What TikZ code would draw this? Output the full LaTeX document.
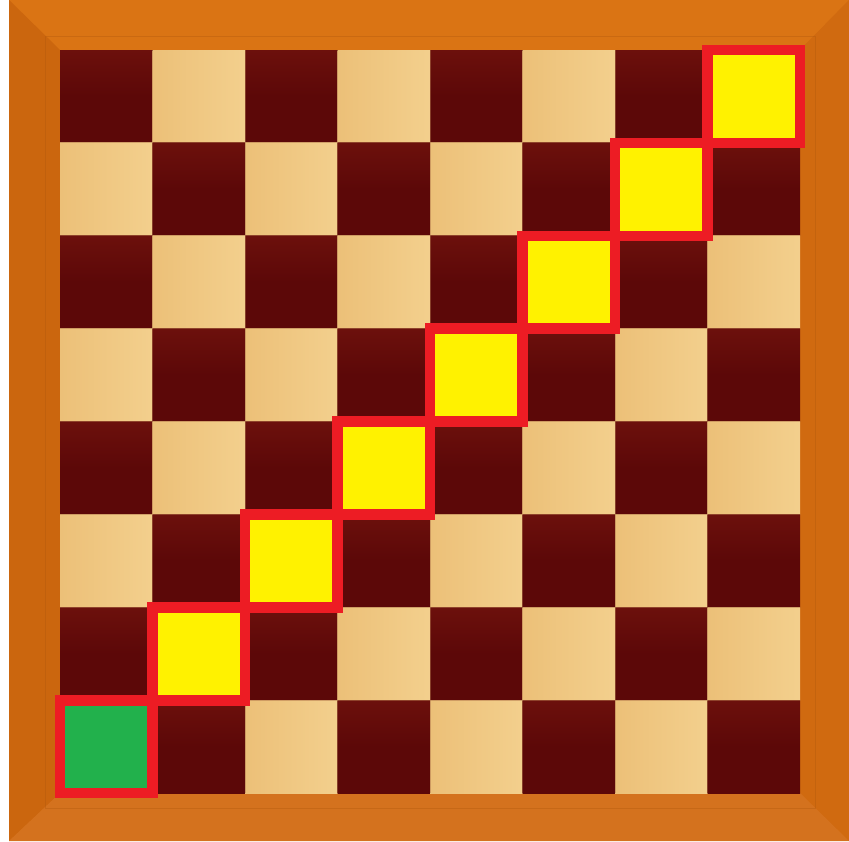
\documentclass[tikz,border=0pt]{standalone}
\usetikzlibrary{calc}
\definecolor{frameA}{RGB}{214,112,18}
\definecolor{frameL}{RGB}{203,102,14}
\definecolor{frameT}{RGB}{218,116,20}
\definecolor{frameR}{RGB}{208,106,16}
\definecolor{frameBot}{RGB}{212,114,30}
\definecolor{darksq}{RGB}{92,8,8}
\definecolor{darksq2}{RGB}{108,16,12}
\definecolor{lightsq}{RGB}{236,192,120}
\definecolor{lightsq2}{RGB}{246,214,150}
\definecolor{yel}{RGB}{255,242,0}
\definecolor{grn}{RGB}{34,177,76}
\definecolor{redl}{RGB}{237,28,36}
\tikzset{
  darkcell/.style={top color=darksq2,bottom color=darksq,middle color=darksq},
  lightcell/.style={left color=lightsq,right color=lightsq2!70!lightsq},
  pathcell/.style={fill=yel},
  startcell/.style={fill=grn},
  hilite/.style={draw=redl,line width=10.5pt,line join=miter}
}
\begin{document}
\begin{tikzpicture}[x=1pt,y=-1pt]
\useasboundingbox (0,0) rectangle (849,841);
\fill[white] (0,0) rectangle (849,841);
% frame
\fill[frameA] (9,0) rectangle (849,841);
\fill[frameT] (9,0) -- (849,0) -- (800,50) -- (60,50) -- cycle;
\fill[frameL] (9,0) -- (60,50) -- (60,793) -- (9,841) -- cycle;
\fill[frameR] (849,0) -- (849,841) -- (800,793) -- (800,50) -- cycle;
\fill[frameBot] (9,841) -- (60,793) -- (800,793) -- (849,841) -- cycle;
\draw[frameL!85!black,line width=1pt,opacity=0.35] (45,36) rectangle (815,808);
% squares
\foreach \r in {0,...,7}{
  \foreach \c in {0,...,7}{
    \pgfmathtruncatemacro{\parity}{mod(\r+\c,2)}
    \ifnum\parity=0
      \fill[darkcell] ({60+\c*92.5},{50+\r*92.9}) rectangle ({60+(\c+1)*92.5},{50+(\r+1)*92.9});
    \else
      \fill[lightcell] ({60+\c*92.5},{50+\r*92.9}) rectangle ({60+(\c+1)*92.5},{50+(\r+1)*92.9});
    \fi
  }
}
% thin grid seams
\foreach \i in {1,...,7}{
  \draw[lightsq!60!darksq,line width=1pt,opacity=0.5] ({60+\i*92.5},50) -- ({60+\i*92.5},793);
  \draw[lightsq!60!darksq,line width=1pt,opacity=0.5] (60,{50+\i*92.9}) -- (800,{50+\i*92.9});
}
% path cells
\foreach \r in {0,...,6}{
  \pgfmathtruncatemacro{\c}{7-\r}
  \fill[pathcell] ({60+\c*92.5},{50+\r*92.9}) rectangle ({60+(\c+1)*92.5},{50+(\r+1)*92.9});
}
\fill[startcell] (60,{50+7*92.9}) rectangle (152.5,793);
\foreach \r in {0,...,6}{
  \pgfmathtruncatemacro{\c}{7-\r}
  \draw[hilite] ({60+\c*92.5},{50+\r*92.9}) rectangle ({60+(\c+1)*92.5},{50+(\r+1)*92.9});
}
\draw[hilite] (60,{50+7*92.9}) rectangle (152.5,793);
\end{tikzpicture}
\end{document}
